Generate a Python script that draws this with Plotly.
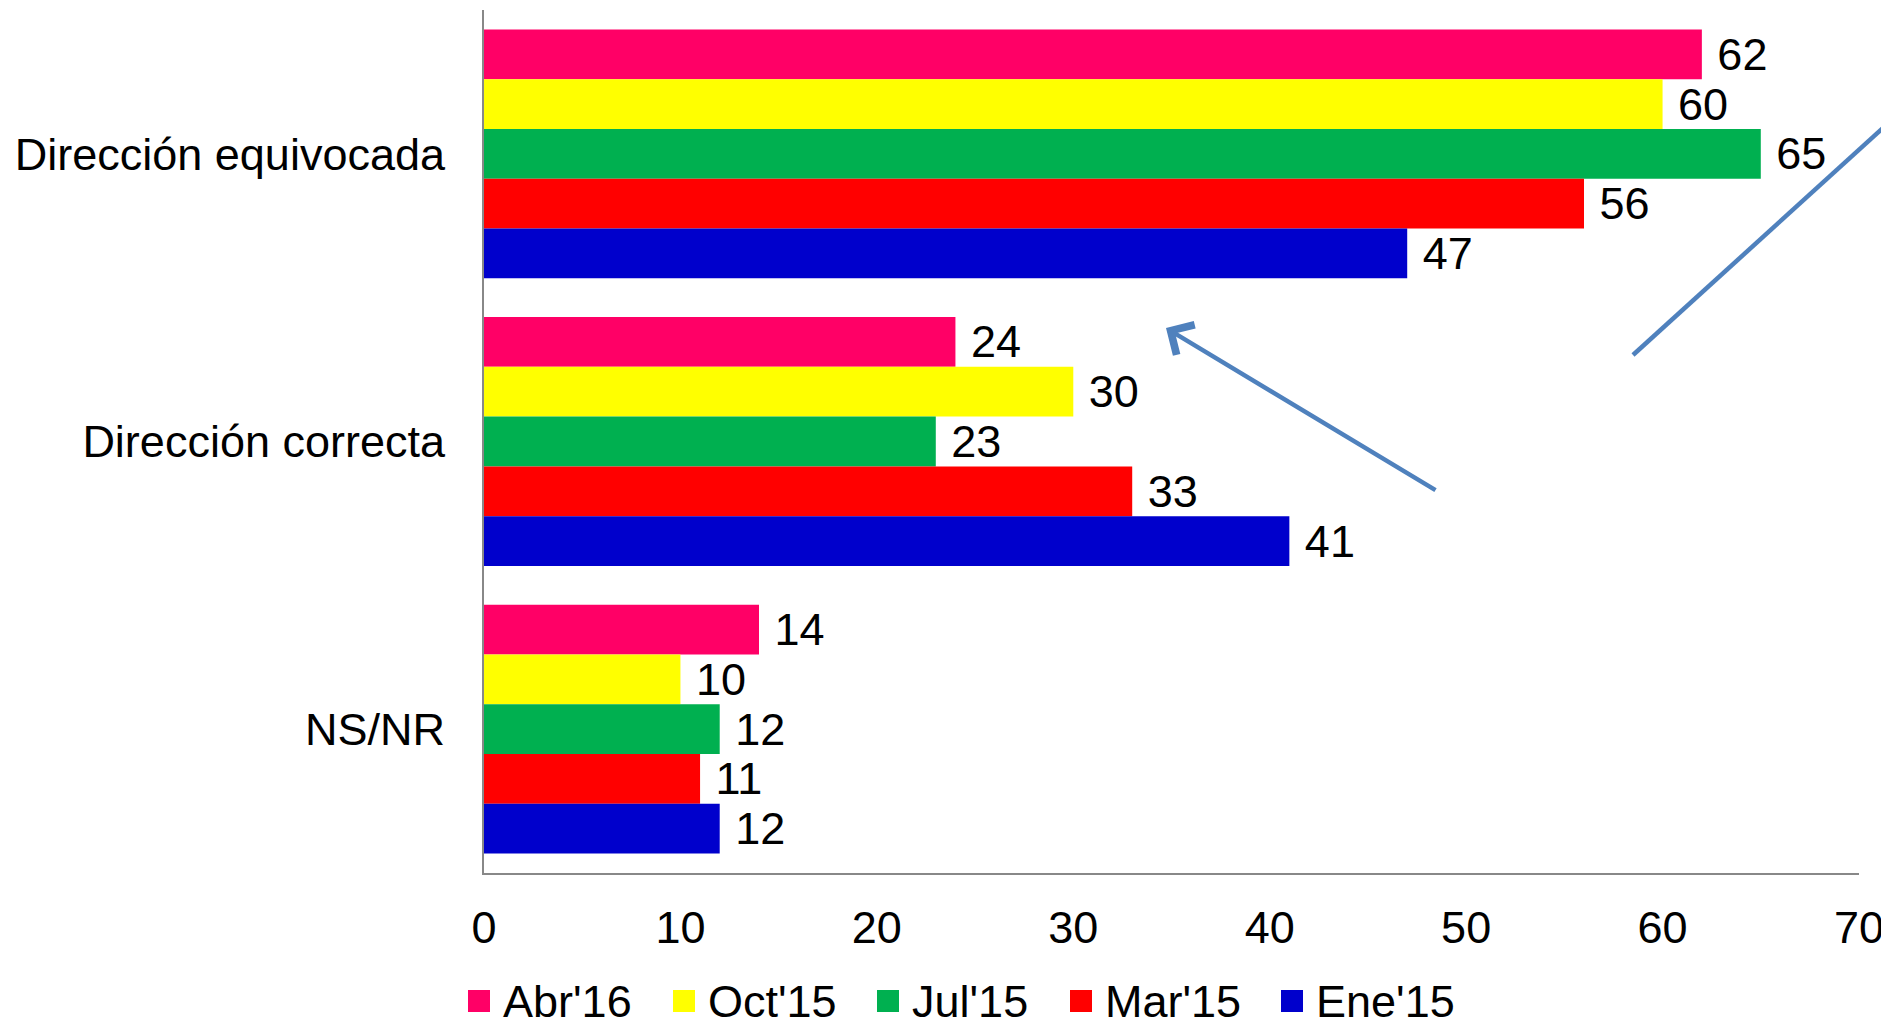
import plotly.graph_objects as go

# data
categories = ["Dirección equivocada", "Dirección correcta", "NS/NR"]
series_names = ["Abr'16", "Oct'15", "Jul'15", "Mar'15", "Ene'15"]
abr16 = [62, 24, 14]
oct15 = [60, 30, 10]
jul15 = [65, 23, 12]
mar15 = [56, 33, 11]
ene15 = [47, 41, 12]
series_values = [abr16, oct15, jul15, mar15, ene15]
colors = ["#FF0066", "#FFFF00", "#00B050", "#FF0000", "#0000CC"]
x_ticks = [0, 10, 20, 30, 40, 50, 60, 70]

# page has an 8px body margin, so the figure is drawn 8px in from the corner
OFF = 8
FIG_W, FIG_H = 1889 - OFF, 1021 - OFF
# plot area in page pixels
L, R, T, B = 484, 1859, 10, 873
W, H = R - L, B - T
FONT = "Liberation Sans, Arial, sans-serif"
FS = 45


def px(x):
    return (x - L) / W


def py(y):
    return (B - y) / H


fig = go.Figure()
for name, vals, col in zip(series_names, series_values, colors):
    fig.add_trace(go.Bar(
        y=categories,
        x=vals,
        name=name,
        orientation="h",
        marker=dict(color=col, line=dict(width=0)),
        text=vals,
        texttemplate="\u00a0%{x}",
        textposition="outside",
        constraintext="none",
        cliponaxis=False,
        textfont=dict(size=FS, color="black", family=FONT),
        showlegend=False,
    ))

# legend drawn by hand so the swatches can be as large as in the original
legend_square_x = [468, 673, 877, 1070, 1281]
shapes = []
annotations = []
for name, col, sx in zip(series_names, colors, legend_square_x):
    shapes.append(dict(type="rect", xref="paper", yref="paper",
                       x0=px(sx), x1=px(sx + 22), y0=py(1012), y1=py(990),
                       fillcolor=col, line=dict(width=0)))
    annotations.append(dict(xref="paper", yref="paper", x=px(sx + 33), y=py(1001),
                            xanchor="left", yanchor="middle", showarrow=False,
                            text=name, font=dict(size=FS, color="black", family=FONT)))

# arrows
annotations.append(dict(xref="paper", yref="paper", x=px(1166), y=py(328),
                        ax=271, ay=163, text="", showarrow=True,
                        arrowhead=4, arrowsize=1.5, arrowwidth=4.5,
                        arrowcolor="#4F81BD"))
shapes.append(dict(type="line", xref="paper", yref="paper",
                   x0=px(1633), y0=py(355), x1=px(1905), y1=py(108),
                   line=dict(color="#4F81BD", width=4.5)))

fig.update_layout(
    width=FIG_W, height=FIG_H,
    margin=dict(l=L - OFF, r=FIG_W - (R - OFF), t=T - OFF, b=FIG_H - (B - OFF)),
    paper_bgcolor="white", plot_bgcolor="white",
    barmode="group", bargap=0.135, bargroupgap=0,
    font=dict(family=FONT, size=FS, color="black"),
    shapes=shapes, annotations=annotations,
)
fig.update_xaxes(range=[0, 70], tickvals=x_ticks, showgrid=False, zeroline=False,
                 showline=True, linecolor="#888888", linewidth=2,
                 ticks="", ticklabelstandoff=14, ticklabeloverflow="allow",
                 tickfont=dict(size=FS, family=FONT, color="black"))
fig.update_yaxes(autorange="reversed", showgrid=False, zeroline=False,
                 showline=True, linecolor="#888888", linewidth=2,
                 ticks="", ticklabelstandoff=28,
                 tickfont=dict(size=FS, family=FONT, color="black"))

fig.write_html("out.html")
